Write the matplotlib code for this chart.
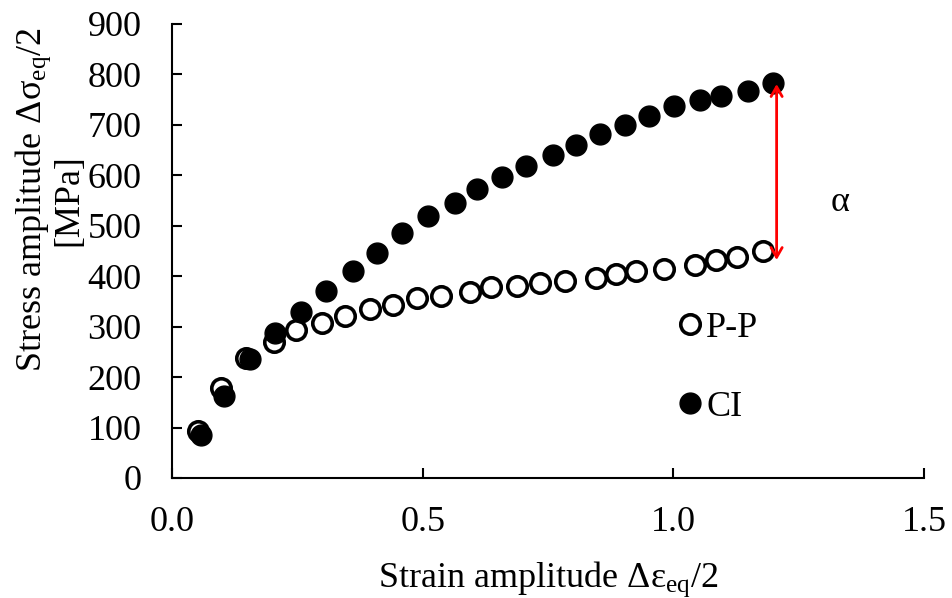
import matplotlib
matplotlib.use("Agg")
import matplotlib.pyplot as plt
from matplotlib.lines import Line2D

plt.rcParams["font.family"] = ["Liberation Serif", "DejaVu Serif"]
plt.rcParams["mathtext.fontset"] = "custom"
plt.rcParams["mathtext.rm"] = "Liberation Serif"
plt.rcParams["mathtext.it"] = "Liberation Serif:italic"

# P-P (open circles)
pp_strain = [0.051, 0.098, 0.148, 0.204, 0.248, 0.299, 0.345, 0.395, 0.441, 0.489,
             0.536, 0.594, 0.636, 0.689, 0.735, 0.783, 0.846, 0.886, 0.926, 0.981,
             1.044, 1.086, 1.127, 1.178]
pp_stress = [94, 178, 237, 270, 294, 308, 322, 335, 342, 356,
             361, 368, 378, 380, 386, 390, 396, 405, 411, 414,
             423, 433, 439, 449]

# CI (filled circles)
ci_strain = [0.058, 0.104, 0.155, 0.205, 0.257, 0.308, 0.360, 0.409, 0.459, 0.511,
             0.564, 0.609, 0.659, 0.707, 0.759, 0.805, 0.854, 0.903, 0.952, 1.001,
             1.053, 1.095, 1.149, 1.199]
ci_stress = [85, 163, 236, 288, 329, 370, 411, 446, 485, 519,
             546, 573, 597, 618, 641, 661, 681, 700, 718, 737,
             750, 758, 768, 783]

x_ticks = [0.0, 0.5, 1.0, 1.5]
y_ticks = [0, 100, 200, 300, 400, 500, 600, 700, 800, 900]

fig = plt.figure(figsize=(9.52, 5.98), dpi=100)
ax = fig.add_axes([0.1807, 0.2007, 0.7899, 0.7592])

ax.plot(pp_strain, pp_stress, "o", ms=14, mfc="white", mec="black", mew=2.6, ls="none")
ax.plot(ci_strain, ci_stress, "o", ms=15, mfc="black", mec="black", ls="none")

# arrow showing the gap
ax.annotate("", xy=(1.206, 432), xytext=(1.206, 781),
            arrowprops=dict(arrowstyle="<->,head_length=0.7,head_width=0.4",
                            color="red", lw=2, shrinkA=0, shrinkB=0))
ax.text(1.333, 546, "α", fontsize=26, ha="center", va="center")

ax.set_xlim(0, 1.5)
ax.set_ylim(0, 900)
ax.set_xticks(x_ticks)
ax.set_xticklabels([f"{v:.1f}" for v in x_ticks])
ax.set_yticks(y_ticks)

for s in ["top", "right"]:
    ax.spines[s].set_visible(False)
for s in ["left", "bottom"]:
    ax.spines[s].set_linewidth(1.5)
ax.tick_params(axis="both", direction="in", length=7, width=1.5, labelsize=26)
ax.tick_params(axis="x", pad=20)
ax.tick_params(axis="y", pad=22)

ax.set_xlabel("Strain amplitude Δε$_{\\mathrm{eq}}$/2", fontsize=26, labelpad=15)
fig.text(0.052, 1 - 200 / 598, "Stress amplitude Δσ$_{\\mathrm{eq}}$/2\n[MPa]",
         rotation=90, ha="center", va="center", multialignment="center",
         fontsize=26, linespacing=0.95)

handles = [
    Line2D([], [], marker="o", ls="none", ms=14, mfc="white", mec="black", mew=2.6),
    Line2D([], [], marker="o", ls="none", ms=15, mfc="black", mec="black"),
]
ax.legend(handles, ["P-P", "CI"], loc="center left", bbox_to_anchor=(0.655, 0.243),
          frameon=False, fontsize=26, handlelength=0.6, handletextpad=0.15,
          labelspacing=1.25, borderaxespad=0)

fig.savefig("out.png", dpi=100)
